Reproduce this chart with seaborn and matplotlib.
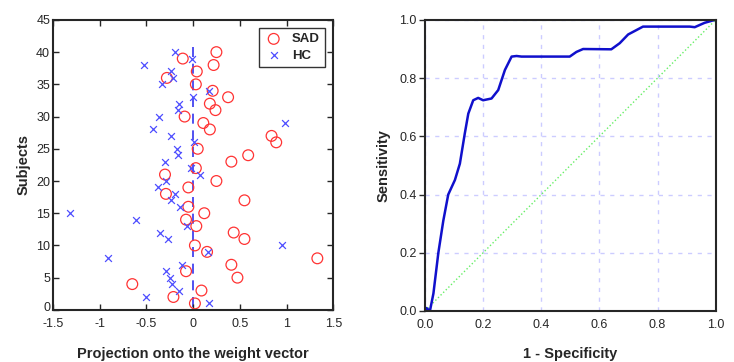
import numpy as np
import pandas as pd
import matplotlib
matplotlib.use('Agg')
import matplotlib.pyplot as plt
import matplotlib.transforms as mtransforms
import seaborn as sns

sns.set_style('ticks')
plt.rcParams['font.family'] = ['Liberation Sans', 'DejaVu Sans']

# ----------------------------------------
# data
# ----------------------------------------
subjects = list(range(1, 41))
sad_proj = [0.02, -0.21, 0.09, -0.65, 0.475, -0.075, 0.41, 1.33, 0.15, 0.02,
            0.55, 0.435, 0.035, -0.075, 0.12, -0.05, 0.55, -0.29, -0.05, 0.25,
            -0.30, 0.03, 0.41, 0.59, 0.05, 0.89, 0.84, 0.18, 0.11, -0.09,
            0.24, 0.18, 0.375, 0.21, 0.03, -0.28, 0.04, 0.22, -0.11, 0.25]
hc_proj = [0.175, -0.50, -0.15, -0.22, -0.25, -0.29, -0.12, -0.91, 0.16, 0.955,
           -0.27, -0.35, -0.06, -0.61, -1.32, -0.14, -0.24, -0.19, -0.375, -0.285,
           0.07, -0.02, -0.30, -0.16, -0.175, 0.01, -0.24, -0.43, 0.98, -0.36,
           -0.16, -0.15, 0.0, 0.175, -0.33, -0.21, -0.24, -0.52, -0.01, -0.19]

fpr = [0.0, 0.005, 0.017, 0.029, 0.046, 0.063, 0.08, 0.103, 0.12, 0.137,
       0.149, 0.166, 0.183, 0.2, 0.229, 0.252, 0.275, 0.298, 0.315, 0.332,
       0.498, 0.521, 0.544, 0.641, 0.67, 0.699, 0.75, 0.911, 0.928, 0.962, 0.997]
tpr = [0.0, 0.01, 0.0, 0.06, 0.2, 0.31, 0.4, 0.45, 0.506, 0.61,
       0.678, 0.724, 0.732, 0.724, 0.73, 0.759, 0.828, 0.874, 0.876, 0.874,
       0.874, 0.89, 0.9, 0.899, 0.92, 0.95, 0.977, 0.977, 0.975, 0.99, 1.0]
chance_x = [0, 1]
chance_y = [0, 1]

proj_ticks = [-1.5, -1, -0.5, 0, 0.5, 1, 1.5]
proj_labels = ['-1.5', '-1', '-0.5', '0', '0.5', '1', '1.5']
subj_ticks = list(range(0, 50, 5))
roc_ticks = [0.0, 0.2, 0.4, 0.6, 0.8, 1.0]

fig = plt.figure(figsize=(7.34, 3.62), dpi=100)
ax1 = fig.add_axes([0.072, 0.144, 0.382, 0.801])
ax2 = fig.add_axes([0.579, 0.141, 0.396, 0.804])

# ----------------------------------------
# left: projections
# ----------------------------------------
sns.scatterplot(x=sad_proj, y=subjects, marker='o', s=60, facecolor='none',
                edgecolor='#ff3333', linewidth=0.9, label='SAD', ax=ax1)
sns.scatterplot(x=hc_proj, y=subjects, marker='x', s=24, color='#4d4dff',
                linewidth=0.9, label='HC', ax=ax1)
ax1.axvline(0, ymin=0.5 / 45, ymax=41 / 45, color='#3333ee',
            linestyle=(0, (6, 4)), linewidth=1.2, zorder=0)

ax1.set_xlim(-1.5, 1.5)
ax1.set_ylim(0, 45)
ax1.set_xticks(proj_ticks)
ax1.set_xticklabels(proj_labels)
ax1.set_yticks(subj_ticks)
ax1.tick_params(direction='in', length=4, width=1, top=True, right=True,
                labelsize=9, pad=2)
ax1.tick_params(axis='x', pad=6)
ax1.set_xlabel('Projection onto the weight vector', fontsize=10.5,
               weight='bold', labelpad=12)
ax1.set_ylabel('Subjects', fontsize=10.5, weight='bold', labelpad=4)
for sp in ax1.spines.values():
    sp.set_linewidth(1.5)
    sp.set_visible(True)

# lift the "0" label a little so it clears "-1.5"
zero_lbl = ax1.get_yticklabels()[0]
zero_lbl.set_transform(zero_lbl.get_transform() +
                       mtransforms.ScaledTranslation(0, 3 / 100, fig.dpi_scale_trans))

leg = ax1.legend(loc='upper right', fontsize=9.5, frameon=True, fancybox=False,
                 edgecolor='black', borderaxespad=0.6, handletextpad=0.7,
                 borderpad=0.4, labelspacing=0.3, handlelength=1.4)
leg.get_frame().set_linewidth(1.0)
for t in leg.get_texts():
    t.set_fontweight('bold')

# ----------------------------------------
# right: ROC
# ----------------------------------------
sns.lineplot(x=chance_x, y=chance_y, color='#66ee66', linestyle=':',
             linewidth=1.0, ax=ax2)
sns.lineplot(x=fpr, y=tpr, color='#1010cc', linewidth=1.8, sort=False,
             estimator=None, ax=ax2)

ax2.set_xlim(0, 1)
ax2.set_ylim(0, 1)
ax2.set_xticks(roc_ticks)
ax2.set_yticks(roc_ticks)
ax2.set_xticklabels([f'{v:.1f}' for v in roc_ticks])
ax2.set_yticklabels([f'{v:.1f}' for v in roc_ticks])
ax2.grid(True, color='#ccccff', linestyle=(0, (3, 4)), linewidth=1.0)
ax2.tick_params(axis='y', direction='out', length=4, width=1, labelsize=9, pad=2)
ax2.tick_params(axis='x', length=0, labelsize=9, pad=6)
ax2.set_xlabel('1 - Specificity', fontsize=10.5, weight='bold', labelpad=11)
ax2.set_ylabel('Sensitivity', fontsize=10.5, weight='bold', labelpad=6)
for sp in ax2.spines.values():
    sp.set_linewidth(1.5)
    sp.set_visible(True)

plt.savefig('out.png', dpi=100)
plt.close()
